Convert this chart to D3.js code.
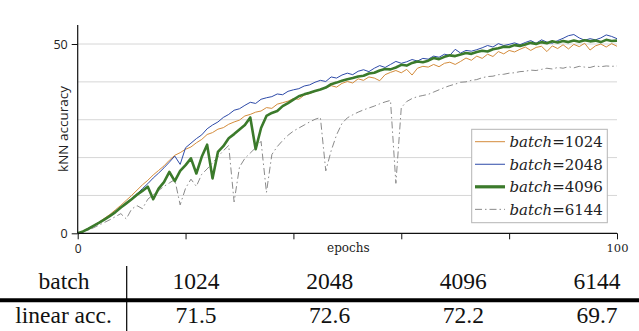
<!DOCTYPE html>
<html><head><meta charset="utf-8">
<script src="https://cdn.jsdelivr.net/npm/d3@7"></script>
<style>html,body{margin:0;padding:0;background:#fff;}svg{display:block;}</style>
</head><body>
<svg id="c" width="639" height="331"></svg>
<script>
const epochs = d3.range(0, 101);
const seriesNames = ["1024", "2048", "4096", "6144"];
const acc1024 = [0,0.6,1.3,2.1,3.0,4.0,5.0,6.2,7.4,8.7,10.0,11.4,12.8,14.0,15.4,16.6,17.8,19.3,20.6,21.3,22.2,22.8,23.9,24.8,26.1,26.6,27.5,27.9,28.8,29.4,29.9,31.0,31.4,32.0,32.3,33.2,33.0,34.1,34.5,34.9,35.6,35.4,36.5,36.9,37.5,38.1,38.4,39.0,38.6,39.6,40.1,39.7,40.8,40.4,41.3,41.0,40.3,41.9,42.5,43.0,42.4,43.3,41.8,43.6,44.1,43.9,44.6,44.0,44.9,45.2,44.6,45.4,46.3,45.7,46.8,46.2,47.3,46.7,48.0,47.4,48.3,47.9,48.6,49.2,48.3,49.1,49.4,48.0,49.5,48.8,49.8,48.7,49.9,49.3,50.2,48.4,49.5,50.0,49.2,50.1,49.4];
const acc2048 = [0,0.5,1.1,1.9,2.8,3.6,4.6,5.6,6.8,8.0,9.2,10.4,11.8,13.1,14.6,15.9,17.3,18.8,20.4,18.2,22.6,23.8,25.0,26.0,27.6,28.6,29.4,30.6,31.4,32.5,32.9,33.8,34.6,34.3,35.4,35.8,36.1,36.8,36.6,37.5,37.9,38.2,38.9,39.2,39.9,40.4,40.1,41.3,41.0,41.8,42.3,41.9,42.8,43.2,42.7,43.6,44.3,43.8,44.6,45.4,44.9,45.3,45.9,45.5,46.2,46.0,46.8,46.5,47.3,47.0,48.6,47.6,48.3,48.1,48.5,49.0,49.6,49.2,50.1,49.6,49.9,50.3,49.8,50.4,50.9,50.2,51.1,50.5,50.2,50.9,51.5,52.2,52.5,51.6,51.0,51.4,51.1,51.6,52.4,52.0,51.4];
const acc4096 = [0,0.5,1.2,2.0,2.8,3.7,4.6,5.6,6.8,7.9,9.0,10.2,11.2,12.3,9.0,11.8,13.5,16.2,13.8,16.5,18.0,19.8,15.8,20.2,23.4,14.5,21.5,23.0,25.1,26.2,27.4,28.6,30.6,22.2,27.8,31.0,31.8,32.3,33.6,34.4,35.3,36.2,36.7,37.1,37.6,38.0,38.5,39.4,39.8,40.3,40.7,41.0,41.4,41.6,42.2,42.4,43.0,43.4,43.3,43.8,44.5,44.3,45.0,45.4,45.2,45.6,46.3,46.0,46.6,47.0,46.8,47.2,47.6,47.4,47.9,48.2,48.0,48.6,48.9,49.3,49.2,49.7,49.5,49.9,50.3,50.0,50.5,50.2,50.7,50.4,50.8,50.5,50.9,50.6,51.0,50.7,50.9,50.5,51.1,50.8,50.9];
const acc6144 = [0,0.4,0.9,1.5,2.2,2.9,3.6,4.4,5.2,3.8,6.4,7.3,6.5,9.0,10.2,11.3,12.4,13.3,14.2,7.5,11.9,14.3,12.4,15.6,17.0,18.6,20.2,21.8,23.2,8.3,17.5,19.8,21.2,22.6,24.3,10.8,20.8,22.9,24.5,25.9,27.0,27.8,28.6,29.4,30.1,30.6,16.5,21.8,26.0,29.0,30.5,31.3,32.0,32.6,33.1,33.6,34.2,34.7,35.1,13.2,33.2,34.8,35.6,36.1,36.4,36.7,37.3,37.9,38.5,39.0,39.4,39.9,40.0,40.4,40.6,41.1,41.4,41.5,41.9,42.0,42.3,42.4,42.7,42.8,43.1,43.0,43.3,43.6,43.4,43.8,43.6,44.0,43.7,44.1,43.9,43.8,44.2,44.0,44.2,44.1,44.2];
const xTicks = [0, 20, 40, 60, 80, 100];
const xTickLabels = {0: "0", 100: "100"};
const yGrid = [10, 20, 30, 40, 50];
const yTicks = [0, 50];
const tableHeader = ["batch", "1024", "2048", "4096", "6144"];
const tableRow = ["linear acc.", "71.5", "72.6", "72.2", "69.7"];

const styles = {
  "1024": {color: "#d48c3c", width: 1, dash: null},
  "2048": {color: "#2d4aa8", width: 1, dash: null},
  "4096": {color: "#3b7a2b", width: 2.6, dash: null},
  "6144": {color: "#8a8a8a", width: 1, dash: "7,3,1.5,3"}
};
const dataBy = {"1024": acc1024, "2048": acc2048, "4096": acc4096, "6144": acc6144};

const svg = d3.select("#c");
const x = d3.scaleLinear().domain([0, 100]).range([77.7, 617]);
const y = d3.scaleLinear().domain([0, 50]).range([233.3, 44]);

// gridlines
svg.append("g").selectAll("line").data(yGrid).join("line")
  .attr("x1", x(0)).attr("x2", x(100))
  .attr("y1", d => y(d)).attr("y2", d => y(d))
  .attr("stroke", "#d6d6d6").attr("stroke-width", 1);

// lines
const line = d3.line().x((d, i) => x(epochs[i])).y(d => y(d));
const order = ["6144", "1024", "2048", "4096"];
order.forEach(k => {
  const s = styles[k];
  svg.append("path").datum(dataBy[k]).attr("d", line)
    .attr("fill", "none").attr("stroke", s.color).attr("stroke-width", s.width)
    .attr("stroke-linejoin", "round")
    .attr("stroke-dasharray", s.dash);
});

// axes
const xAxis = svg.append("g").attr("transform", `translate(0,${y(0)})`)
  .call(d3.axisBottom(x).tickValues(xTicks).tickSize(6).tickPadding(5)
    .tickFormat(d => xTickLabels[d] || ""));
xAxis.select(".domain").attr("d", `M${x(0)},0H${x(100)}`).attr("stroke", "#111").attr("stroke-width", 1.2);
xAxis.selectAll(".tick line").attr("stroke", "#111");
xAxis.selectAll(".tick text").attr("font-family", "Open Sans").attr("font-size", 12).attr("fill", "#222");
xAxis.selectAll(".tick text").filter(d => d === 100).attr("font-family", "DejaVu Serif").attr("font-size", 11.5);

const yAxis = svg.append("g").attr("transform", `translate(${x(0)},0)`)
  .call(d3.axisLeft(y).tickValues(yTicks).tickSize(6).tickPadding(4));
yAxis.select(".domain").attr("d", `M0,25V${y(0)}`).attr("stroke", "#111").attr("stroke-width", 1.2);
yAxis.selectAll(".tick line").attr("stroke", "#111");
yAxis.selectAll(".tick text").attr("font-family", "Open Sans").attr("font-size", 12.5).attr("fill", "#222");

svg.append("text").attr("transform", `translate(68,129) rotate(-90)`)
  .attr("text-anchor", "middle").attr("font-family", "Open Sans").attr("font-size", 13.5)
  .attr("fill", "#222").text("kNN accuracy");
svg.append("text").attr("x", x(50) + 1).attr("y", 252).attr("text-anchor", "middle")
  .attr("font-family", "DejaVu Serif").attr("font-size", 12).attr("fill", "#222").text("epochs");

// legend
const lg = svg.append("g");
lg.append("rect").attr("x", 471.7).attr("y", 129.3).attr("width", 135.6).attr("height", 93.4)
  .attr("fill", "#fff").attr("stroke", "#b5b5b5").attr("stroke-width", 1);
seriesNames.forEach((k, i) => {
  const cy = 141.7 + i * 22.55;
  const s = styles[k];
  lg.append("line").attr("x1", 475).attr("x2", 505).attr("y1", cy).attr("y2", cy)
    .attr("stroke", s.color).attr("stroke-width", s.width === 1 ? 1 : 3.2)
    .attr("stroke-dasharray", s.dash);
  const t = lg.append("text").attr("x", 509.5).attr("y", cy + 5.3)
    .attr("font-family", "DejaVu Serif").attr("font-size", 15).attr("fill", "#222");
  t.append("tspan").attr("font-style", "italic").text("batch");
  t.append("tspan").text("=" + k);
});

// table
const colX = d3.scalePoint().domain(tableHeader.slice(1)).range([196, 597]);
const tbl = svg.append("g").attr("font-family", "Liberation Serif").attr("font-size", 23.5).attr("fill", "#111");
tbl.append("text").attr("x", 64).attr("y", 288.7).attr("text-anchor", "middle").text(tableHeader[0]);
tbl.append("text").attr("x", 63.5).attr("y", 323).attr("text-anchor", "middle").text(tableRow[0]);
tableHeader.slice(1).forEach((h, i) => {
  tbl.append("text").attr("x", colX(h)).attr("y", 288.7).attr("text-anchor", "middle").text(h);
  tbl.append("text").attr("x", colX(h)).attr("y", 323).attr("text-anchor", "middle").text(tableRow[i + 1]);
});
svg.append("line").attr("x1", 0).attr("x2", 639).attr("y1", 300.3).attr("y2", 300.3)
  .attr("stroke", "#000").attr("stroke-width", 4);
svg.append("line").attr("x1", 126.7).attr("x2", 126.7).attr("y1", 266).attr("y2", 331)
  .attr("stroke", "#000").attr("stroke-width", 1.2);
</script>
</body></html>
